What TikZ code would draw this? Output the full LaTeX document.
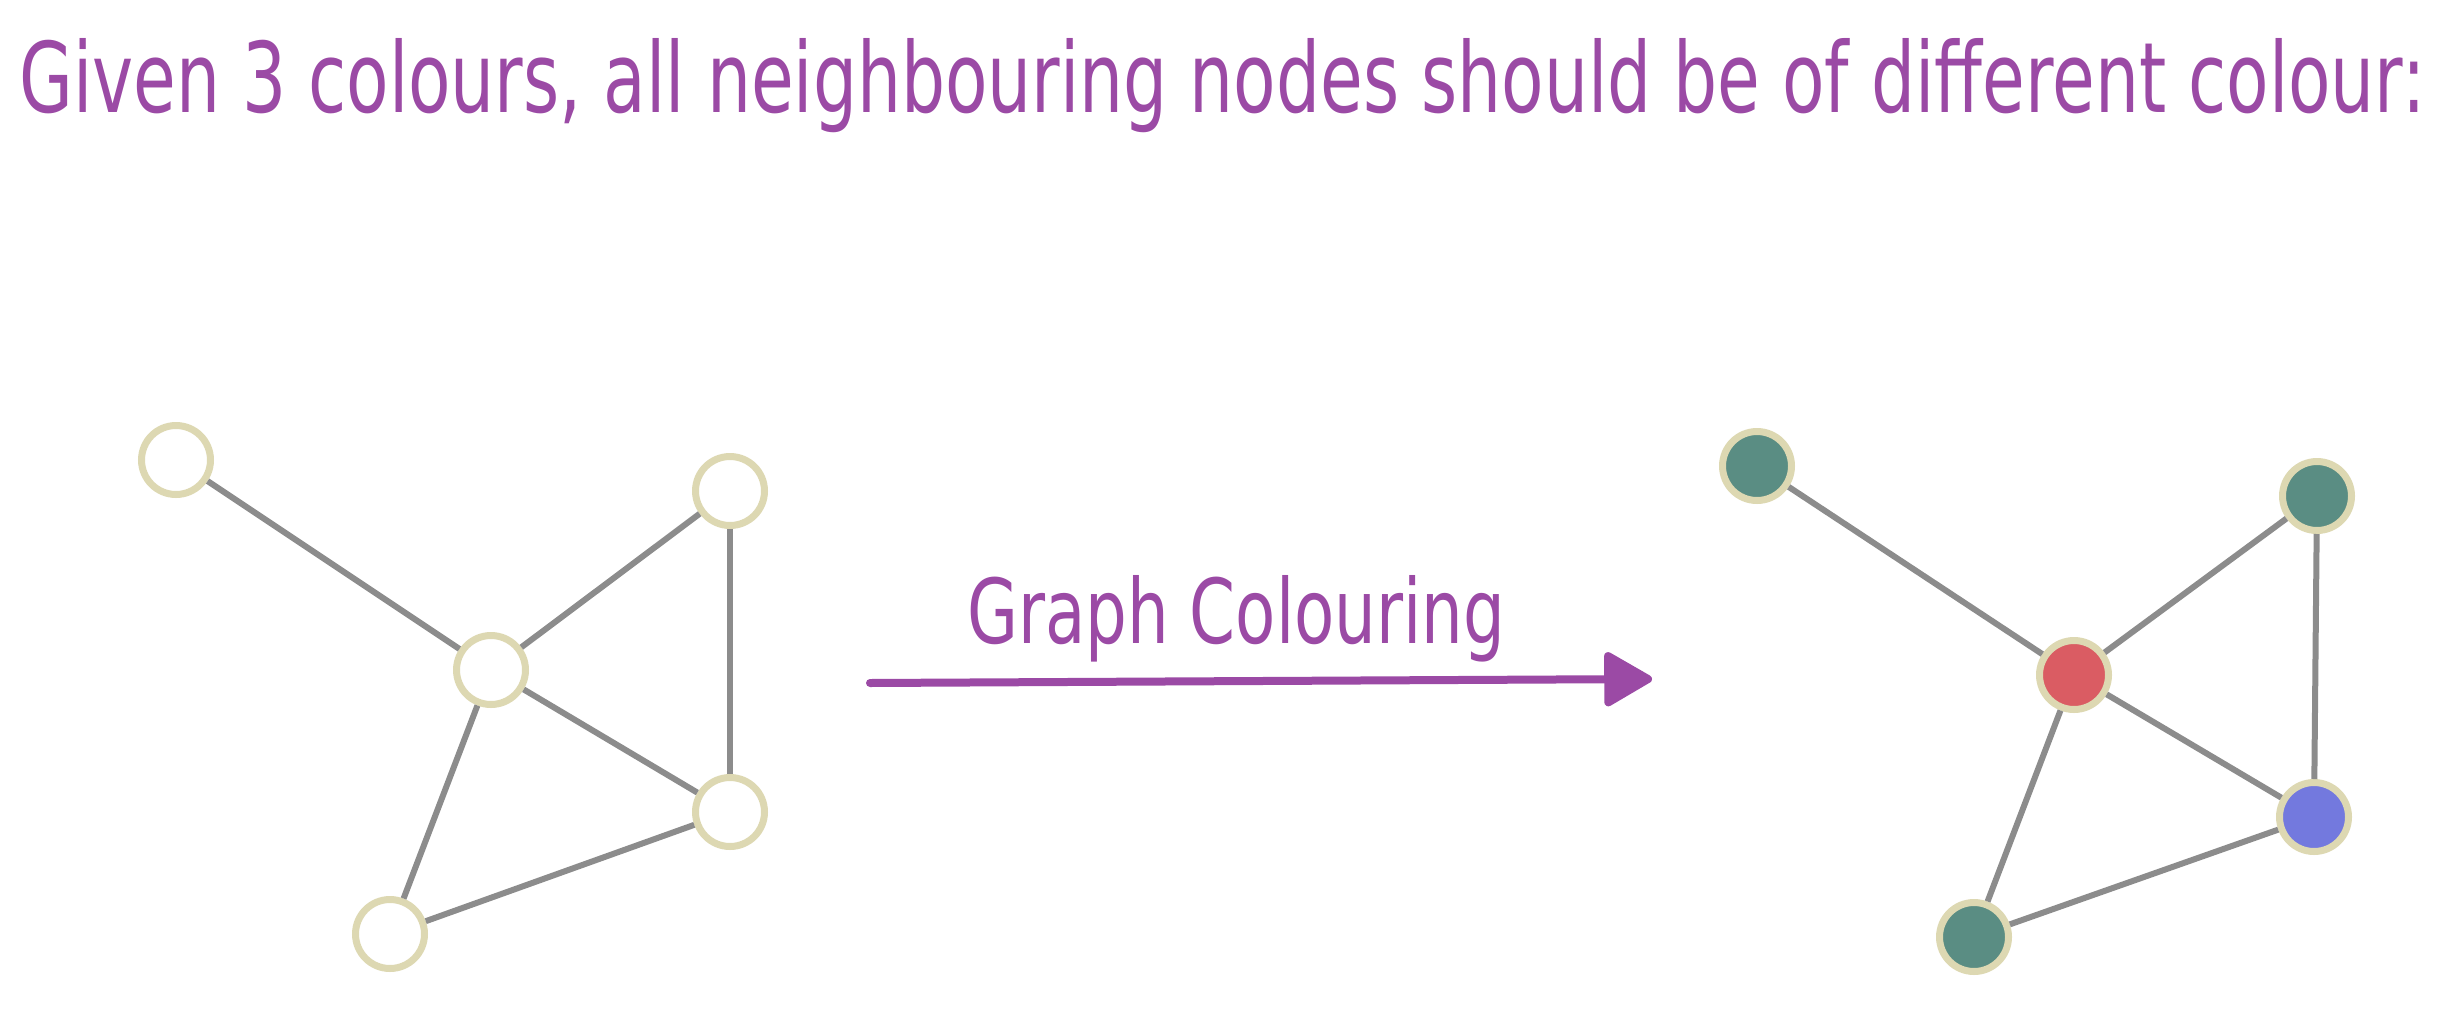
\documentclass[tikz,border=0pt]{standalone}
\usepackage{fontspec}
\usepackage{graphicx}
\usepackage{xcolor}
\setmainfont{DejaVu Sans}
\usetikzlibrary{arrows.meta,positioning}

\definecolor{inkpurple}{HTML}{9B4AA5}
\definecolor{edgegray}{HTML}{8C8C8C}
\definecolor{rimbeige}{HTML}{DDD8B2}
\definecolor{nodegreen}{HTML}{5A8D83}
\definecolor{nodered}{HTML}{DA5C63}
\definecolor{nodeblue}{HTML}{7379DE}

\tikzset{
  vertex/.style={circle, draw=rimbeige, line width=7pt, fill=white,
    minimum size=69pt, inner sep=0pt},
  greennode/.style={vertex, fill=nodegreen},
  rednode/.style={vertex, fill=nodered},
  bluenode/.style={vertex, fill=nodeblue},
  link/.style={draw=edgegray, line width=6pt},
  arrowline/.style={draw=inkpurple, line width=8pt, line cap=round,
    -{Triangle[length=52pt 0 0, width=58pt 0 0, round]}},
  hand/.style={text=inkpurple, inner sep=0pt},
}

\begin{document}
\begin{tikzpicture}[x=1pt, y=-1pt]
  \useasboundingbox (0,0) rectangle (2445,1026);

  \node[hand, anchor=base west] (title) at (19,112)
    {\resizebox{2406pt}{74pt}{Given 3 colours, all neighbouring nodes should be of different colour:}};

  % Graph before colouring
  \node[vertex] (la) at (176,460) {};
  \node[vertex] (lb) at (730,491) {};
  \node[vertex] (lc) at (491,670) {};
  \node[vertex] (ld) at (730,812) {};
  \node[vertex] (le) at (390,934) {};

  % Graph after colouring
  \node[greennode] (ra) at (1757,466) {};
  \node[greennode] (rb) at (2317,496) {};
  \node[rednode]   (rc) at (2074,675) {};
  \node[bluenode]  (rd) at (2314,817) {};
  \node[greennode] (re) at (1974,937) {};

  \foreach \g in {l,r} {
    \draw[link] (\g a) -- (\g c);
    \draw[link] (\g b) -- (\g c);
    \draw[link] (\g b) -- (\g d);
    \draw[link] (\g c) -- (\g d);
    \draw[link] (\g c) -- (\g e);
    \draw[link] (\g d) -- (\g e);
  }

  % Arrow between the two graphs
  \coordinate (from) at (870,683);
  \coordinate (to) at (1652,679);
  \draw[arrowline] (from) -- (to);
  \node[hand, anchor=base west] (step label) at (967,643)
    {\resizebox{538pt}{68pt}{Graph Colouring}};
\end{tikzpicture}
\end{document}
